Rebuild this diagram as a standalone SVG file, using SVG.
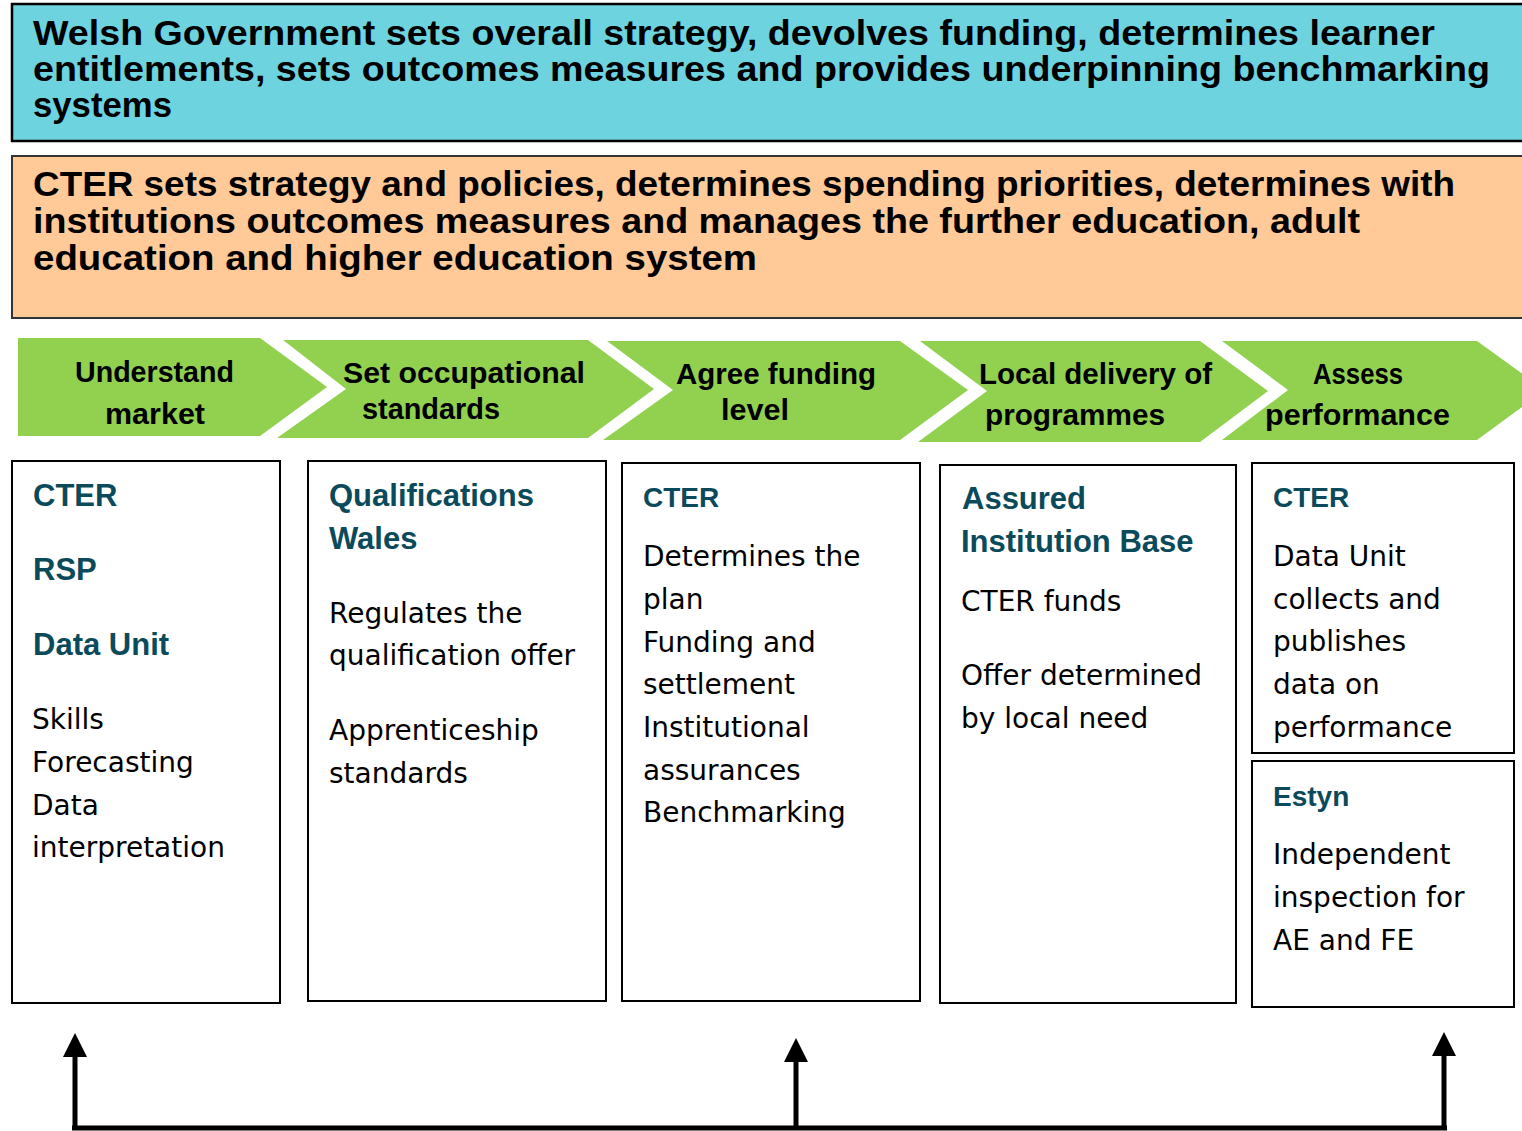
<svg xmlns="http://www.w3.org/2000/svg" width="1522" height="1131" viewBox="0 0 1522 1131">
<style>
.bg{fill:#ffffff}
.banner{font-family:"Liberation Sans",Arial,sans-serif;font-weight:bold;font-size:35px;fill:#000}
.chev{fill:#92D050;stroke:none}
.ct{font-family:"Liberation Sans",Arial,sans-serif;font-weight:bold;font-size:29px;fill:#000}
.box{fill:#fff;stroke:#000;stroke-width:2}
.hd{font-family:"Liberation Sans",Arial,sans-serif;font-weight:bold;font-size:31px;fill:#0B4A5A}
.hd2{font-family:"Liberation Sans",Arial,sans-serif;font-weight:bold;font-size:28px;fill:#0B4A5A}
.bt{font-family:"DejaVu Sans",sans-serif;font-size:28px;fill:#000}
.conn{stroke:#000;stroke-width:5;fill:none}
</style>
<defs>
<marker id="ah" markerUnits="userSpaceOnUse" markerWidth="24" markerHeight="24" viewBox="0 0 24 24" refX="0" refY="12" orient="auto">
<path d="M0 0 L24 12 L0 24 Z" fill="#000"/>
</marker>
</defs>
<rect class="bg" x="0" y="0" width="1522" height="1131"/>

<g id="welsh-gov">
<rect x="12" y="4" width="1530" height="137" fill="#6DD3DF" stroke="#000" stroke-width="2.5"/>
<text class="banner" x="33" y="45" textLength="1402" lengthAdjust="spacingAndGlyphs">Welsh Government sets overall strategy, devolves funding, determines learner</text>
<text class="banner" x="33" y="81" textLength="1457" lengthAdjust="spacingAndGlyphs">entitlements, sets outcomes measures and provides underpinning benchmarking</text>
<text class="banner" x="33" y="117" textLength="139" lengthAdjust="spacingAndGlyphs">systems</text>
</g>

<g id="cter-banner">
<rect x="12" y="156" width="1530" height="162" fill="#FFC998" stroke="#333" stroke-width="2"/>
<text class="banner" x="33" y="196" textLength="1422" lengthAdjust="spacingAndGlyphs">CTER sets strategy and policies, determines spending priorities, determines with</text>
<text class="banner" x="33" y="233" textLength="1327" lengthAdjust="spacingAndGlyphs">institutions outcomes measures and manages the further education, adult</text>
<text class="banner" x="33" y="270" textLength="724" lengthAdjust="spacingAndGlyphs">education and higher education system</text>
</g>

<g id="step-understand">
<polygon class="chev" points="18,338 260,338 327,387 260,436 18,436"/>
<text class="ct" x="75" y="382" textLength="159" lengthAdjust="spacingAndGlyphs">Understand</text>
<text class="ct" x="105" y="424" textLength="100" lengthAdjust="spacingAndGlyphs">market</text>
</g>
<g id="step-standards">
<polygon class="chev" points="283,340 588,340 654,389 588,438 277,438 346,389"/>
<text class="ct" x="343" y="383" textLength="242" lengthAdjust="spacingAndGlyphs">Set occupational</text>
<text class="ct" x="362" y="419" textLength="138" lengthAdjust="spacingAndGlyphs">standards</text>
</g>
<g id="step-funding">
<polygon class="chev" points="607,341 900,341 968,390 900,440 603,440 673,390"/>
<text class="ct" x="676" y="384" textLength="200" lengthAdjust="spacingAndGlyphs">Agree funding</text>
<text class="ct" x="721" y="420" textLength="68" lengthAdjust="spacingAndGlyphs">level</text>
</g>
<g id="step-delivery">
<polygon class="chev" points="920,341 1200,341 1268,391 1200,442 918,442 987,391"/>
<text class="ct" x="979" y="384" textLength="233" lengthAdjust="spacingAndGlyphs">Local delivery of</text>
<text class="ct" x="985" y="425" textLength="180" lengthAdjust="spacingAndGlyphs">programmes</text>
</g>
<g id="step-assess">
<polygon class="chev" points="1222,341 1477,341 1545,390 1477,440 1222,440 1288,390"/>
<text class="ct" x="1313" y="384" textLength="90" lengthAdjust="spacingAndGlyphs">Assess</text>
<text class="ct" x="1265" y="425" textLength="185" lengthAdjust="spacingAndGlyphs">performance</text>
</g>

<g id="box-market">
<rect class="box" x="12" y="461" width="268" height="542"/>
<text class="hd" x="33" y="506">CTER</text>
<text class="hd" x="33" y="580">RSP</text>
<text class="hd" x="33" y="655">Data Unit</text>
<text class="bt" x="32" y="729">Skills</text>
<text class="bt" x="32" y="772">Forecasting</text>
<text class="bt" x="32" y="815">Data</text>
<text class="bt" x="32" y="857">interpretation</text>
</g>

<g id="box-qualifications">
<rect class="box" x="308" y="461" width="298" height="540"/>
<text class="hd" x="329" y="506">Qualifications</text>
<text class="hd" x="329" y="549">Wales</text>
<text class="bt" x="329" y="623">Regulates the</text>
<text class="bt" x="329" y="665">qualification offer</text>
<text class="bt" x="329" y="740">Apprenticeship</text>
<text class="bt" x="329" y="783">standards</text>
</g>

<g id="box-funding">
<rect class="box" x="622" y="463" width="298" height="538"/>
<text class="hd2" x="643" y="507">CTER</text>
<text class="bt" x="643" y="566">Determines the</text>
<text class="bt" x="643" y="609">plan</text>
<text class="bt" x="643" y="652">Funding and</text>
<text class="bt" x="643" y="694">settlement</text>
<text class="bt" x="643" y="737">Institutional</text>
<text class="bt" x="643" y="780">assurances</text>
<text class="bt" x="643" y="822">Benchmarking</text>
</g>

<g id="box-delivery">
<rect class="box" x="940" y="465" width="296" height="538"/>
<text class="hd" x="962" y="509" font-size="30">Assured</text>
<text class="hd" x="961" y="552" font-size="30">Institution Base</text>
<text class="bt" x="961" y="611">CTER funds</text>
<text class="bt" x="961" y="685">Offer determined</text>
<text class="bt" x="961" y="728">by local need</text>
</g>

<g id="box-data-unit">
<rect class="box" x="1252" y="463" width="262" height="290"/>
<text class="hd2" x="1273" y="507">CTER</text>
<text class="bt" x="1273" y="566">Data Unit</text>
<text class="bt" x="1273" y="609">collects and</text>
<text class="bt" x="1273" y="651">publishes</text>
<text class="bt" x="1273" y="694">data on</text>
<text class="bt" x="1273" y="737">performance</text>
</g>

<g id="box-estyn">
<rect class="box" x="1252" y="761" width="262" height="246"/>
<text class="hd2" x="1273" y="806">Estyn</text>
<text class="bt" x="1273" y="864">Independent</text>
<text class="bt" x="1273" y="907">inspection for</text>
<text class="bt" x="1273" y="950">AE and FE</text>
</g>

<g id="connectors">
<path class="conn" d="M72 1128 H1447"/>
<path class="conn" d="M75 1128 V1057" marker-end="url(#ah)"/>
<path class="conn" d="M796 1128 V1062" marker-end="url(#ah)"/>
<path class="conn" d="M1444 1128 V1056" marker-end="url(#ah)"/>
</g>
</svg>
